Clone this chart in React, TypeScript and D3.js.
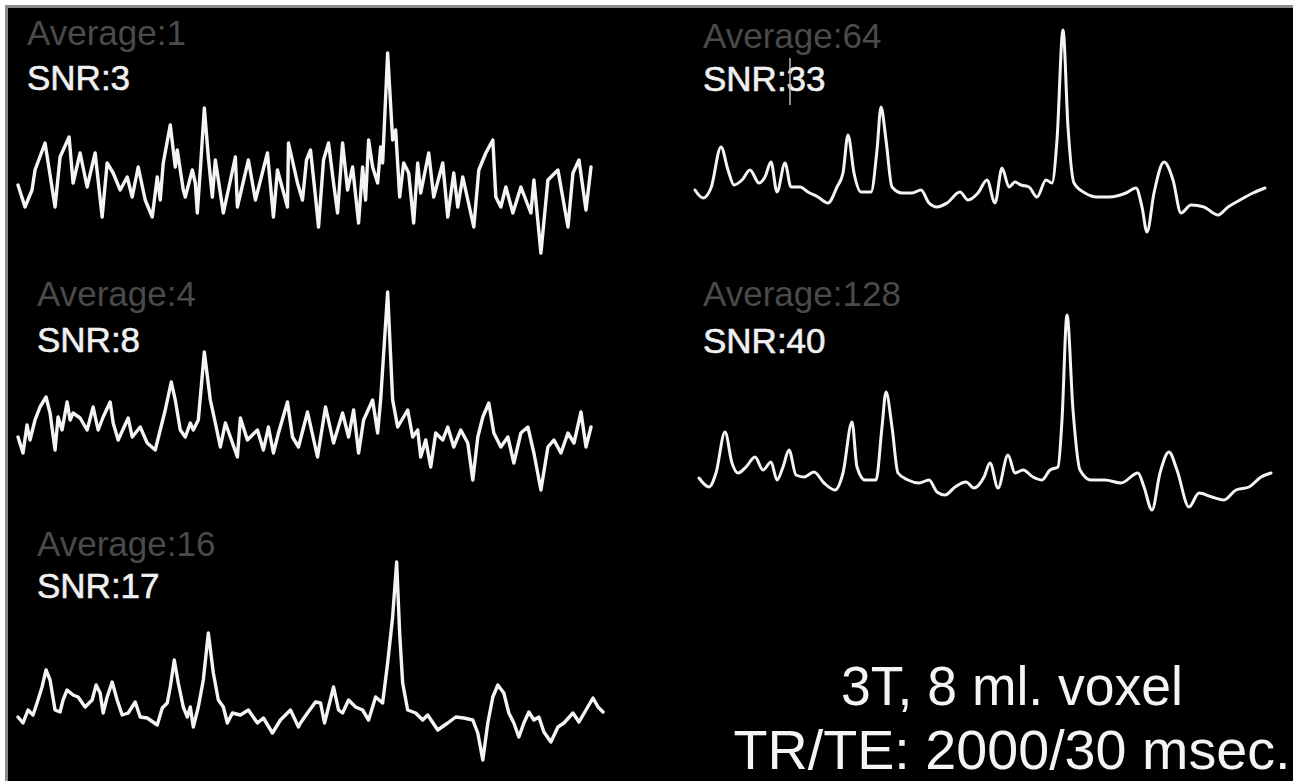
import React, { useEffect, useRef } from 'react';
import * as d3 from 'd3';

type Pt = [number, number];

// spectra: [spectral point, intensity above baseline]
const avg1: Pt[] = [
  [0, -5], [7, -27], [14, -10], [17, 10], [27, 37], [37, -27], [42, 23], [51, 43], [55, -3], [62, 27],
  [69, -7], [77, 27], [84, -37], [89, 17], [95, 7], [102, -10], [109, 3], [114, -17], [120, 13], [127, -20],
  [134, -37], [139, 3], [142, -20], [145, 17], [152, 55], [157, 13], [159, 30], [165, -10], [167, -17], [174, 10],
  [177, -3], [179, -33], [182, 10], [186, 72], [190, 23], [194, -17], [197, 20], [205, -33], [217, 23], [219, -27],
  [230, 20], [237, -20], [249, 27], [255, -37], [259, 10], [269, -27], [270, 37], [279, -3], [284, -20], [288, 20],
  [292, 30], [297, -17], [300, -47], [305, 20], [310, 37], [315, -3], [319, -33], [324, 37], [329, -10], [334, 13],
  [340, -43], [344, 13], [347, -20], [350, 40], [354, 13], [359, -3], [362, 33], [364, 17], [369, 127], [374, 40],
  [377, 50], [381, -17], [385, 17], [390, 7], [395, -43], [399, 17], [402, -13], [410, 27], [415, -17], [424, 17],
  [429, -37], [435, 7], [439, -27], [444, 3], [455, -47], [460, 10], [467, 27], [474, 40], [477, -17], [482, -27],
  [487, -7], [494, -33], [502, -7], [512, -33], [515, 0], [522, -73], [529, 0], [539, 10], [549, -47], [554, 7],
  [560, 20], [567, -30], [572, 13],
];

const avg4: Pt[] = [
  [0, -12], [5, -28], [9, 0], [12, -15], [17, 5], [22, 18], [28, 28], [32, 12], [37, -25], [40, 8],
  [44, -5], [49, 23], [52, 5], [55, 12], [62, 7], [69, -5], [75, 18], [80, -5], [85, 8], [92, 23],
  [95, 2], [100, -15], [110, 7], [114, -12], [122, -2], [129, -18], [137, -25], [142, -5], [147, 15], [153, 43],
  [157, 25], [162, -5], [167, -12], [172, 2], [175, -5], [180, 5], [186, 73], [192, 25], [197, 2], [202, -22],
  [207, 2], [212, -12], [219, -32], [222, 7], [229, -15], [239, -5], [245, -25], [250, -2], [255, -28], [260, -8],
  [269, 23], [274, -12], [280, -22], [289, 13], [299, -32], [307, 18], [315, -18], [324, 12], [330, -12], [335, 15],
  [340, -28], [345, 5], [354, 25], [359, -8], [362, 25], [369, 133], [374, 25], [379, -2], [389, 15], [394, -12],
  [399, -5], [402, -32], [407, -15], [412, -42], [417, -8], [424, -15], [429, -2], [435, -22], [442, -5], [449, -18],
  [454, -55], [459, -12], [464, 8], [470, 22], [475, -8], [482, -22], [489, -12], [495, -38], [502, -8], [509, -2],
  [515, -28], [522, -65], [529, -22], [535, -15], [542, -28], [549, -8], [555, -18], [562, 13], [567, -22], [572, -2],
];

const avg16: Pt[] = [
  [0, -2], [5, -8], [10, 5], [15, 0], [19, 12], [24, 28], [28, 45], [32, 35], [37, 5], [42, 3],
  [45, 15], [49, 25], [55, 20], [60, 18], [67, 8], [74, 15], [78, 30], [82, 22], [85, 2], [89, 18],
  [94, 33], [99, 15], [104, 0], [110, 2], [117, 13], [122, -2], [129, -3], [139, -10], [144, 7], [149, 12],
  [152, 28], [156, 55], [160, 32], [165, 8], [169, -2], [172, 8], [175, -12], [180, 8], [185, 35], [190, 82],
  [195, 42], [200, 15], [205, 8], [209, -8], [214, 2], [222, 0], [230, 5], [239, -8], [245, -3], [254, -18],
  [262, -5], [272, 5], [280, -12], [282, -8], [289, 2], [297, 13], [302, 12], [306, -8], [310, 8], [315, 28],
  [320, 5], [324, 2], [330, 15], [337, 8], [344, 5], [350, -5], [357, 18], [364, 12], [369, 52], [374, 98],
  [378, 153], [381, 82], [384, 32], [389, 5], [397, 2], [404, -5], [409, 0], [419, -15], [429, -8], [437, -2],
  [445, -3], [454, -5], [459, -18], [464, -45], [469, -8], [474, 18], [479, 30], [485, 22], [490, 2], [495, -8],
  [500, -22], [505, -8], [510, 3], [515, -5], [520, -2], [525, -17], [532, -27], [539, -12], [545, -8], [554, 2],
  [560, -7], [567, 5], [574, 17], [579, 8], [584, 3],
];

const avg64: Pt[] = [
  [0, 0], [8, -8], [16, 2], [26, 43], [33, 20], [39, 5], [47, 10], [55, 20], [64, 7], [70, 13],
  [76, 28], [82, -2], [90, 27], [96, 3], [105, 3], [113, -2], [123, -7], [133, -13], [142, 3], [148, 17],
  [153, 55], [159, 17], [166, -2], [176, -2], [182, 40], [186, 83], [191, 50], [197, 3], [207, -3], [217, -3],
  [226, 0], [234, -13], [242, -17], [252, -13], [265, -2], [273, -10], [283, -3], [292, 10], [300, -13], [307, 22],
  [314, 3], [320, 8], [326, 5], [334, 3], [342, -7], [351, 10], [357, 7], [362, 50], [368, 160], [373, 63],
  [379, 7], [390, -3], [402, -7], [414, -7], [431, -3], [441, 2], [447, -17], [452, -42], [459, -3], [469, 28],
  [478, 10], [486, -23], [496, -15], [509, -17], [523, -25], [533, -17], [545, -10], [558, -3], [570, 2],
];

const avg128: Pt[] = [
  [0, 2], [10, -7], [17, 7], [26, 48], [33, 17], [39, 7], [47, 13], [56, 23], [64, 10], [72, 18],
  [78, 0], [84, 13], [90, 30], [97, 5], [105, 3], [115, 8], [125, -3], [136, -10], [144, 7], [153, 58],
  [158, 13], [166, 0], [177, 0], [183, 53], [187, 88], [193, 53], [199, 7], [209, 0], [220, -3], [230, 0],
  [238, -12], [246, -15], [256, -7], [267, -2], [275, -8], [285, 3], [291, 17], [299, -8], [309, 25], [316, 7],
  [324, 10], [334, 3], [343, 0], [351, 10], [359, 13], [363, 60], [368, 165], [374, 70], [381, 10], [392, 0],
  [406, 0], [422, -3], [439, 7], [445, -7], [453, -30], [461, 7], [470, 28], [478, 10], [490, -27], [500, -13],
  [513, -17], [525, -20], [537, -10], [550, -7], [562, 3], [572, 7],
];

const averages = ['Average:1', 'Average:4', 'Average:16', 'Average:64', 'Average:128'];
const snrs = ['SNR:3', 'SNR:8', 'SNR:17', 'SNR:33', 'SNR:40'];
const series = [avg1, avg4, avg16, avg64, avg128];
const notes = ['3T, 8 ml. voxel', 'TR/TE: 2000/30 msec.'];

// where each panel sits on the page
const layout = [
  { x0: 18, x1: 591, base: 180, lx: 27, avgY: 45, snrY: 90, smooth: false },
  { x0: 18, x1: 591, base: 425, lx: 37, avgY: 306, snrY: 352, smooth: false },
  { x0: 18, x1: 603, base: 715, lx: 37, avgY: 556, snrY: 598, smooth: false },
  { x0: 695, x1: 1265, base: 190, lx: 703, avgY: 48, snrY: 91, smooth: true },
  { x0: 699, x1: 1271, base: 480, lx: 703, avgY: 306, snrY: 353, smooth: true },
];

const W = 1293;
const H = 781;

export default function App() {
  const svgRef = useRef<SVGSVGElement>(null);

  useEffect(() => {
    const svg = d3.select(svgRef.current);
    svg.selectAll('*').remove();

    svg.append('rect').attr('width', W).attr('height', H).attr('fill', '#fff');
    svg.append('rect').attr('x', 5).attr('y', 5).attr('width', W - 5).attr('height', H - 5).attr('fill', '#8c8c8c');
    svg.append('rect').attr('x', 8).attr('y', 8).attr('width', W - 8).attr('height', H - 8).attr('fill', '#000');

    const font = "'Liberation Sans', Arial, sans-serif";

    series.forEach((data, i) => {
      const L = layout[i];
      const x = d3.scaleLinear()
        .domain([0, data[data.length - 1][0]])
        .range([L.x0, L.x1]);
      const y = d3.scaleLinear().domain([0, 100]).range([L.base, L.base - 100]);

      const line = d3.line<Pt>()
        .x(d => x(d[0]))
        .y(d => y(d[1]))
        .curve(L.smooth ? d3.curveMonotoneX : d3.curveLinear);

      const g = svg.append('g');
      g.append('path')
        .attr('d', line(data) || '')
        .attr('fill', 'none')
        .attr('stroke', '#f4f4f4')
        .attr('stroke-width', L.smooth ? 3 : 3.4)
        .attr('stroke-linejoin', 'round')
        .attr('stroke-linecap', 'round');

      g.append('text')
        .attr('x', L.lx).attr('y', L.avgY)
        .attr('font-family', font).attr('font-size', 35)
        .attr('fill', '#4a4a4a')
        .text(averages[i]);
      g.append('text')
        .attr('x', L.lx).attr('y', L.snrY)
        .attr('font-family', font).attr('font-size', 35)
        .attr('fill', '#f0f0f0')
        .attr('stroke', '#f0f0f0').attr('stroke-width', 0.6)
        .text(snrs[i]);
    });

    // text cursor left in the SNR:33 label
    svg.append('line')
      .attr('x1', 790).attr('x2', 790).attr('y1', 58).attr('y2', 105)
      .attr('stroke', '#bbb').attr('stroke-width', 1.5);

    const noteY = [705, 769];
    const noteW = [342, 557];
    notes.forEach((t, i) => {
      svg.append('text')
        .attr('x', 1012).attr('y', noteY[i])
        .attr('text-anchor', 'middle')
        .attr('font-family', font).attr('font-size', 56)
        .attr('fill', '#f4f4f4')
        .attr('textLength', noteW[i])
        .attr('lengthAdjust', 'spacingAndGlyphs')
        .text(t);
    });
  }, []);

  return (
    <div style={{ position: 'absolute', left: 0, top: 0, width: W, height: H, overflow: 'hidden' }}>
      <svg ref={svgRef} width={W} height={H} style={{ display: 'block' }} />
    </div>
  );
}
